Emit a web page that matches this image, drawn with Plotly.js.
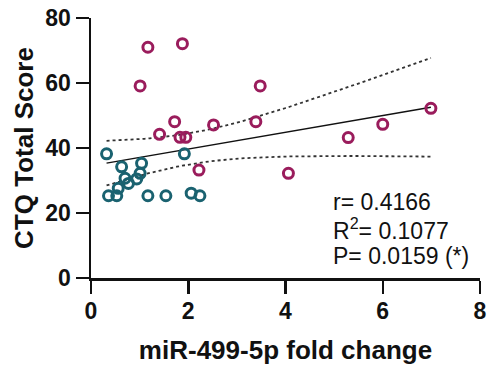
<!DOCTYPE html>
<html>
<head>
<meta charset="utf-8">
<script src="https://cdn.plot.ly/plotly-3.0.1.min.js"></script>
<style>html,body{margin:0;padding:0;background:#fff;}#chart{width:489px;height:369px;}</style>
</head>
<body>
<div id="chart"></div>
<script>
// Group 1 (teal)
const tealX = [0.32, 1.92, 0.63, 1.04, 1.01, 0.70, 0.77, 0.94, 0.56, 0.36, 0.53, 1.17, 1.54, 2.06, 2.24];
const tealY = [38.2, 38.2, 34.2, 35.3, 32.2, 30.7, 29.1, 30.5, 27.6, 25.3, 25.3, 25.3, 25.3, 26.1, 25.3];
// Group 2 (purple)
const purpleX = [1.17, 1.88, 1.01, 3.48, 1.72, 1.41, 1.83, 1.95, 2.52, 3.39, 2.22, 4.06, 5.29, 6.00, 6.99];
const purpleY = [71.0, 72.1, 59.1, 59.1, 48.1, 44.2, 43.3, 43.3, 47.1, 48.1, 33.2, 32.2, 43.2, 47.3, 52.2];
const xTicks = [0, 2, 4, 6, 8];
const yTicks = [0, 20, 40, 60, 80];
const statsText = ["r= 0.4166", "R<sup>2</sup>= 0.1077", "P= 0.0159 (*)"];

// linear regression with 95% CI of the mean, from all points
const allX = tealX.concat(purpleX), allY = tealY.concat(purpleY);
const n = allX.length;
const mx = allX.reduce((s,v)=>s+v,0)/n, my = allY.reduce((s,v)=>s+v,0)/n;
let sxx=0, sxy=0;
for (let i=0;i<n;i++){ sxx+=(allX[i]-mx)**2; sxy+=(allX[i]-mx)*(allY[i]-my); }
const b = sxy/sxx, a = my - b*mx;
let sse=0; for (let i=0;i<n;i++){ sse += (allY[i]-(a+b*allX[i]))**2; }
const se = Math.sqrt(sse/(n-2));
const tcrit = 2.048;
const xmin = Math.min(...allX), xmax = Math.max(...allX);
const fx=[], fy=[], up=[], lo=[];
for (let k=0;k<=60;k++){
  const x = xmin + (xmax-xmin)*k/60;
  const y = a+b*x;
  const h = tcrit*se*Math.sqrt(1/n + (x-mx)**2/sxx);
  fx.push(x); fy.push(y); up.push(y+h); lo.push(y-h);
}

const FONT = "Liberation Sans, Arial, sans-serif";
const traces = [
  {x: fx, y: up, mode:'lines', line:{color:'#333', width:1.8, dash:'dot'}, hoverinfo:'skip'},
  {x: fx, y: lo, mode:'lines', line:{color:'#333', width:1.8, dash:'dot'}, hoverinfo:'skip'},
  {x: fx, y: fy, mode:'lines', line:{color:'#111', width:1.5}, hoverinfo:'skip'},
  {x: tealX, y: tealY, mode:'markers', marker:{symbol:'circle-open', size:10, color:'#1a6270', line:{width:3, color:'#1a6270'}}},
  {x: purpleX, y: purpleY, mode:'markers', marker:{symbol:'circle-open', size:10, color:'#9a1c5c', line:{width:3, color:'#9a1c5c'}}}
];
const layout = {
  width:489, height:369,
  margin:{l:91, r:9, t:18, b:91},
  showlegend:false,
  paper_bgcolor:'#fff', plot_bgcolor:'#fff',
  font:{family:FONT, color:'#111'},
  xaxis:{range:[0,8], tickvals:xTicks, ticktext:xTicks.map(String), showgrid:false, zeroline:false, showline:true, linecolor:'#111', linewidth:2.5,
    ticks:'outside', ticklen:13, tickwidth:2.5, tickcolor:'#111', ticklabelstandoff:-2,
    tickfont:{family:FONT, size:23, color:'#111', weight:'bold'},
    title:{text:'<b>miR-499-5p fold change</b>', font:{family:FONT, size:26, color:'#111'}, standoff:18}},
  yaxis:{range:[0,80], tickvals:yTicks, ticktext:yTicks.map(String), showgrid:false, zeroline:false, showline:true, linecolor:'#111', linewidth:2.5,
    ticks:'outside', ticklen:13, tickwidth:2.5, tickcolor:'#111',
    tickfont:{family:FONT, size:23, color:'#111', weight:'bold'},
    title:{text:'<b>CTQ Total Score</b>', font:{family:FONT, size:26, color:'#111'}, standoff:4}},
  annotations: statsText.map((t,i)=>({xref:'paper', yref:'paper', x:(331-91)/389, y:(278-202-27*i)/260, xanchor:'left', yanchor:'middle',
    text:t, showarrow:false, font:{family:FONT, size:23, color:'#111'}}))
};
Plotly.newPlot('chart', traces, layout, {staticPlot:true});
</script>
</body>
</html>
